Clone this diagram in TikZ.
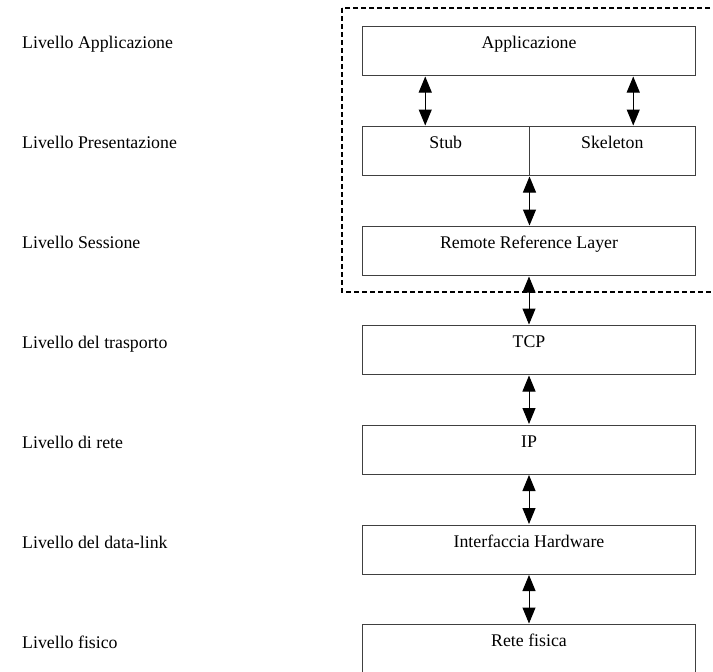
\documentclass[tikz,border=0pt]{standalone}
\usepackage{fontspec}
\setmainfont{Liberation Serif}
\usetikzlibrary{arrows.meta}
\begin{document}
\begin{tikzpicture}[x=1pt,y=-1pt,
  layerbox/.style={draw=black!75, line width=1pt, fill=white, inner sep=0pt,
    minimum width=333pt, text height=22pt, text depth=27pt, anchor=north west,
    font=\fontsize{17.8}{20}\selectfont},
  halfbox/.style={layerbox, minimum width=166.5pt},
  levlabel/.style={anchor=base west, inner sep=0pt, font=\fontsize{17.8}{20}\selectfont},
  dbl/.style={line width=1pt, {Triangle[width=13pt,length=16pt]}-{Triangle[width=13pt,length=16pt]}, shorten <=0.5pt, shorten >=0.5pt},
  dashbox/.style={draw=black, line width=1.3pt, dash pattern=on 5pt off 3pt}
]
\useasboundingbox (0,0) rectangle (713,672);
\clip (0,0) rectangle (713,672);

% dashed RMI region
\draw[dashbox] (342,8) rectangle (730,292);

% left labels
\node[levlabel] (l1) at (22,48) {Livello Applicazione};
\node[levlabel] (l2) at (22,148) {Livello Presentazione};
\node[levlabel] (l3) at (22,248) {Livello Sessione};
\node[levlabel] (l4) at (22,348) {Livello del trasporto};
\node[levlabel] (l5) at (22,448) {Livello di rete};
\node[levlabel] (l6) at (22,548) {Livello del data-link};
\node[levlabel] (l7) at (22,648) {Livello fisico};

% boxes
\node[layerbox] (app) at (362,26) {Applicazione};
\node[halfbox] (stub) at (362,126) {Stub};
\node[halfbox] (skel) at (528.5,126) {Skeleton};
\node[layerbox] (rrl) at (362,226) {Remote Reference Layer};
\node[layerbox] (tcp) at (362,325) {TCP};
\node[layerbox] (ip) at (362,424.5) {IP};
\node[layerbox] (hw) at (362,524.5) {Interfaccia Hardware};
\node[layerbox] (net) at (362,624) {Rete fisica};

% arrows
\draw[dbl] ([xshift=-20.5pt]stub.north |- app.south) -- ([xshift=-20.5pt]stub.north);
\draw[dbl] ([xshift=21pt]skel.north |- app.south) -- ([xshift=21pt]skel.north);
\draw[dbl] (stub.south east) -- (stub.south east |- rrl.north);
\draw[dbl] (rrl.south) -- (tcp.north);
\draw[dbl] (tcp.south) -- (ip.north);
\draw[dbl] (ip.south) -- (hw.north);
\draw[dbl] (hw.south) -- (net.north);
\end{tikzpicture}
\end{document}
